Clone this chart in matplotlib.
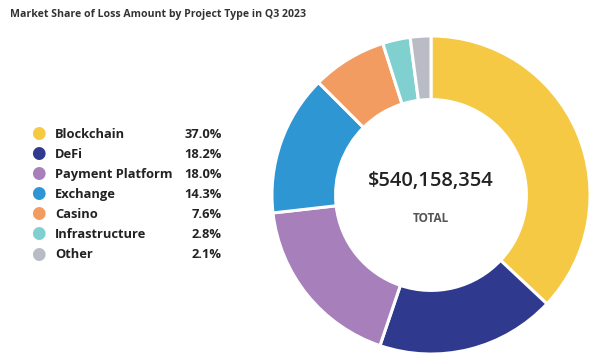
import matplotlib.pyplot as plt

categories = ["Blockchain", "DeFi", "Payment Platform", "Exchange", "Casino", "Infrastructure", "Other"]
shares = [37.0, 18.2, 18.0, 14.3, 7.6, 2.8, 2.1]
colors = ["#F5C944", "#2F3A8F", "#A67FBB", "#2F96D4", "#F39C62", "#80D0D0", "#B9BCC5"]
total_label = "$540,158,354"

plt.rcParams['font.family'] = ['Open Sans', 'DejaVu Sans']

fig = plt.figure(figsize=(6, 3.57), dpi=100)
W, H = 600, 357

# donut, centre about (431, 195) px, outer radius ~159 px
cx, cy, r = 431, 195, 160
ax = fig.add_axes([(cx - r) / W, (H - cy - r) / H, 2 * r / W, 2 * r / H])
ax.pie(shares, colors=colors, startangle=90, counterclock=False, radius=1,
       wedgeprops=dict(width=0.40, edgecolor="white", linewidth=2.2))
ax.set_xlim(-1.006, 1.006)
ax.set_ylim(-1.006, 1.006)
ax.set_aspect("equal")
ax.axis("off")

ax.text(0, 0.09, total_label, ha="center", va="center", fontsize=14.5,
        fontweight="semibold", color="#222222")
ax.text(0, -0.15, "TOTAL", ha="center", va="center", fontsize=8.5,
        fontweight="bold", color="#555555")

fig.text(10 / W, 1 - 14 / H, "Market Share of Loss Amount by Project Type in Q3 2023",
         ha="left", va="center", fontsize=7.6, fontweight="bold", color="#333333")

# legend
for i, (name, val, col) in enumerate(zip(categories, shares, colors)):
    y = 1 - (134 + 20.1 * i) / H
    fig.text(38 / W, y, "\u25CF", ha="center", va="center", fontsize=12, color=col)
    fig.text(55 / W, y, name, ha="left", va="center", fontsize=9.3,
             fontweight="bold", color="#222222")
    fig.text(222 / W, y, f"{val:.1f}%", ha="right", va="center", fontsize=9.3,
             fontweight="bold", color="#222222")

fig.savefig("out.png", dpi=100, facecolor="white")
